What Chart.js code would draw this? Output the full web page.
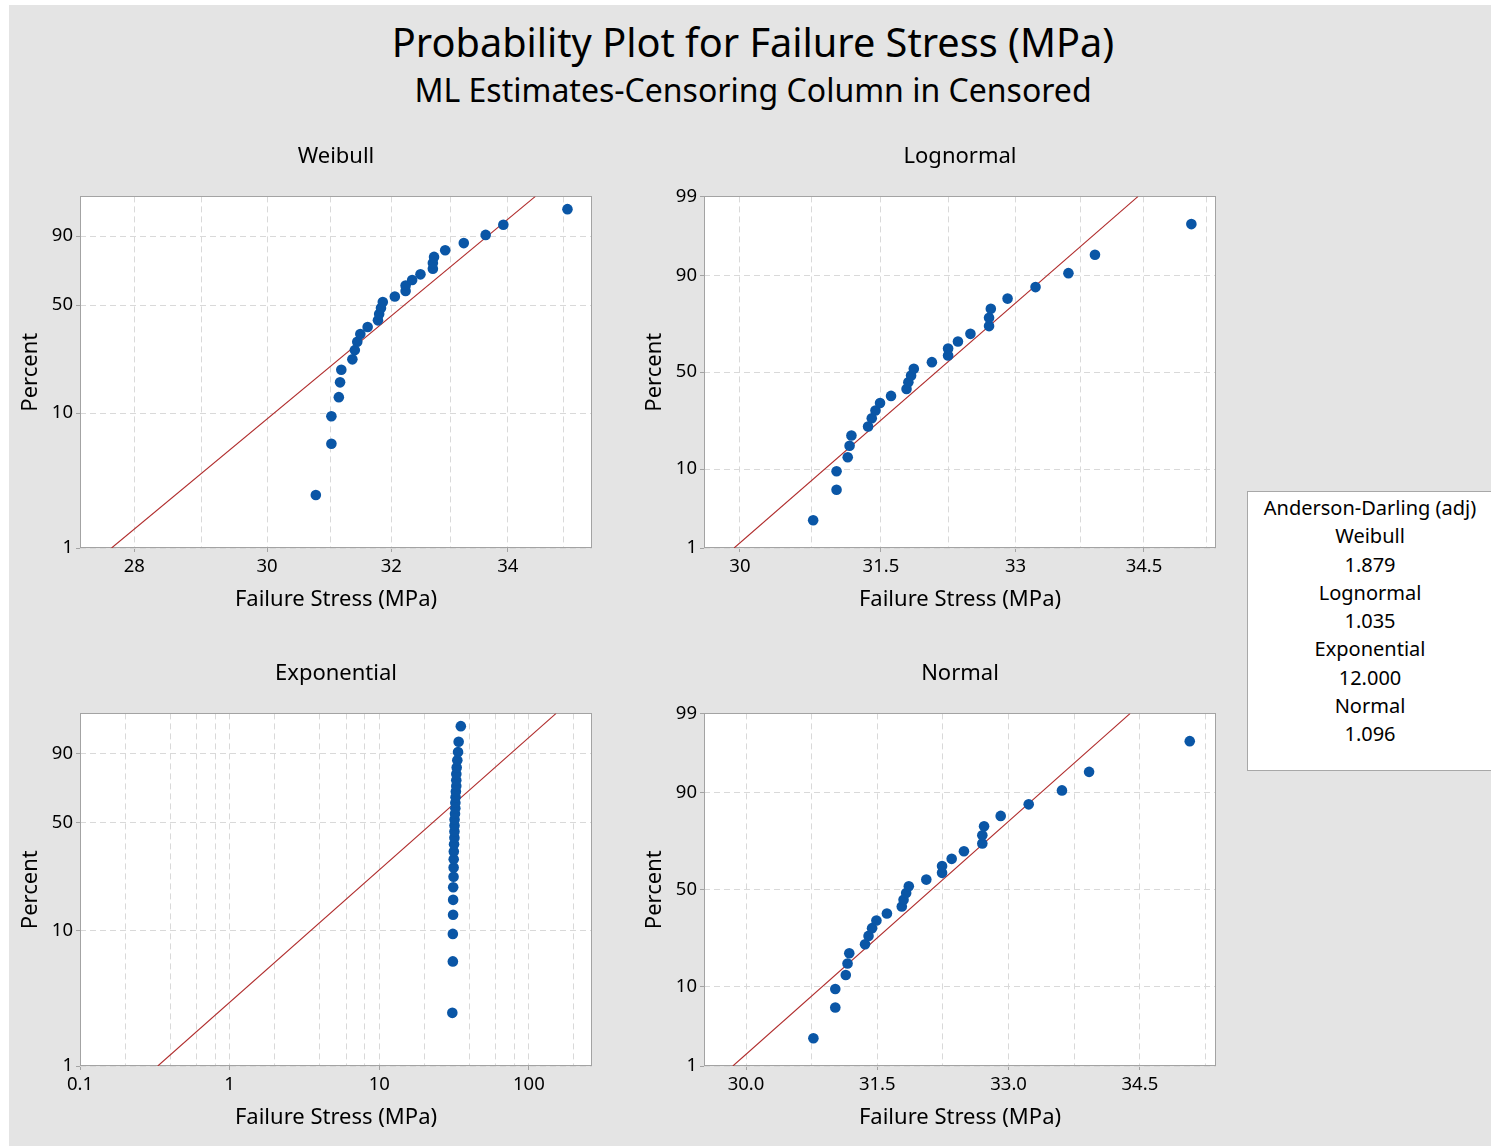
<!DOCTYPE html>
<html>
<head>
<meta charset="utf-8">
<script src="https://cdn.jsdelivr.net/npm/chart.js@4.4.1/dist/chart.umd.min.js"></script>
<style>
  html, body { margin: 0; padding: 0; background: #ffffff; width: 1491px; height: 1146px; overflow: hidden; }
  #panel { position: absolute; left: 9px; top: 5px; width: 1482px; height: 1141px; background: #e4e4e4; }
  .txt { position: absolute; font-family: 'Noto Sans', 'Open Sans', sans-serif; color: #000; text-align: center; white-space: nowrap; }
  canvas { position: absolute; }
  #adBox { position: absolute; left: 1247px; top: 491px; width: 260px; height: 278px; background: #fff; border: 1px solid #a8a8a8; }
</style>
</head>
<body>
<div id="panel"></div>
<div class="txt" id="mainTitle" style="left:253px; width:1000px; top:17px; font-size:39.7px; line-height:50px;"></div>
<div class="txt" id="subTitle" style="left:253px; width:1000px; top:70px; font-size:32px; line-height:40px;"></div>
<canvas id="cWeibull" width="610" height="505" style="left:10px; top:125px;"></canvas>
<canvas id="cLognormal" width="610" height="505" style="left:630px; top:125px;"></canvas>
<canvas id="cExponential" width="610" height="506" style="left:10px; top:640px;"></canvas>
<canvas id="cNormal" width="610" height="506" style="left:630px; top:640px;"></canvas>
<div id="adBox"></div>
<div class="txt" id="adText" style="left:1247px; width:246px; top:494px; font-size:20px; line-height:28.3px;"></div>

<script>
// ---------------- data ----------------
const mainTitle = 'Probability Plot for Failure Stress (MPa)';
const subTitle = 'ML Estimates-Censoring Column in Censored';
const xTitle = 'Failure Stress (MPa)';
const yTitle = 'Percent';

// observed failure stress (MPa), ordered
const failureStress = [30.77, 31.02, 31.02, 31.14, 31.16, 31.18, 31.36, 31.40, 31.44, 31.49,
                       31.61, 31.78, 31.80, 31.83, 31.86, 32.06, 32.24, 32.24, 32.35, 32.49,
                       32.70, 32.70, 32.72, 32.91, 33.23, 33.61, 33.92, 35.07];
// plotted percent for each observation
const plotPercent = [2.5, 6.0, 9.5, 13.0, 16.5, 20.1, 23.6, 27.1, 30.6, 34.2,
                     37.7, 41.2, 44.7, 48.2, 51.8, 55.3, 58.8, 62.3, 65.8, 69.4,
                     72.9, 76.4, 79.9, 83.5, 87.0, 90.5, 94.0, 97.5];

// fitted lines: x at the 1% and 99% ends
const fitPercent = [1, 99];
const weibullFitX = [27.67, 34.49];
const lognormalFitX = [29.94, 34.43];
const exponentialFitX = [0.331, 152];
const normalFitX = [29.85, 34.39];

// axes
const percentGrid = [1, 10, 50, 90, 99];
const percentLabelsLow = [1, 10, 50, 90];        // Weibull / Exponential
const percentLabelsFull = [1, 10, 50, 90, 99];    // Lognormal / Normal
const weibullXGrid = [28, 29, 30, 31, 32, 33, 34, 35];
const weibullXLabels = [28, 30, 32, 34];
const lognormalXGrid = [30, 30.75, 31.5, 32.25, 33, 33.75, 34.5, 35.25];
const lognormalXLabels = [30, 31.5, 33, 34.5];
const normalXGrid = [30, 30.75, 31.5, 32.25, 33, 33.75, 34.5, 35.25];
const normalXLabels = [30.0, 31.5, 33.0, 34.5];
const expXGrid = [0.1, 0.2, 0.4, 0.6, 0.8, 1, 2, 4, 6, 8, 10, 20, 40, 60, 80, 100, 200];
const expXLabels = [0.1, 1, 10, 100];

const adTitle = 'Anderson-Darling (adj)';
const adNames = ['Weibull', 'Lognormal', 'Exponential', 'Normal'];
const adValues = ['1.879', '1.035', '12.000', '1.096'];

// ---------------- text ----------------
document.getElementById('mainTitle').textContent = mainTitle;
document.getElementById('subTitle').textContent = subTitle;
const adEl = document.getElementById('adText');
[adTitle].concat(...adNames.map((n, i) => [n, adValues[i]])).forEach(t => {
  const d = document.createElement('div'); d.textContent = t; adEl.appendChild(d);
});

// ---------------- probability scale ----------------
function probit(p) {
  const a = [-3.969683028665376e+01, 2.209460984245205e+02, -2.759285104469687e+02, 1.383577518672690e+02, -3.066479806614716e+01, 2.506628277459239e+00];
  const b = [-5.447609879822406e+01, 1.615858368580409e+02, -1.556989798598866e+02, 6.680131188771972e+01, -1.328068155288572e+01];
  const c = [-7.784894002430293e-03, -3.223964580411365e-01, -2.400758277161838e+00, -2.549732539343734e+00, 4.374664141464968e+00, 2.938163982698783e+00];
  const d = [7.784695709041462e-03, 3.224671290700398e-01, 2.445134137142996e+00, 3.754408661907416e+00];
  const pl = 0.02425, ph = 1 - pl;
  let q, r;
  if (p < pl) {
    q = Math.sqrt(-2 * Math.log(p));
    return (((((c[0]*q+c[1])*q+c[2])*q+c[3])*q+c[4])*q+c[5]) / ((((d[0]*q+d[1])*q+d[2])*q+d[3])*q+1);
  }
  if (p <= ph) {
    q = p - 0.5; r = q * q;
    return (((((a[0]*r+a[1])*r+a[2])*r+a[3])*r+a[4])*r+a[5])*q / (((((b[0]*r+b[1])*r+b[2])*r+b[3])*r+b[4])*r+1);
  }
  q = Math.sqrt(-2 * Math.log(1 - p));
  return -(((((c[0]*q+c[1])*q+c[2])*q+c[3])*q+c[4])*q+c[5]) / ((((d[0]*q+d[1])*q+d[2])*q+d[3])*q+1);
}

class ProbabilityScale extends Chart.Scale {
  determineDataLimits() { this.min = this.options.min; this.max = this.options.max; }
  buildTicks() { return (this.options.tickValues || []).map(v => ({ value: v })); }
  getLabelForValue(v) { return String(v); }
  _t(v) {
    const p = v / 100;
    return this.options.transform === 'weibull' ? Math.log(-Math.log(1 - p)) : probit(p);
  }
  configure() {
    super.configure();
    this._t0 = this._t(this.min);
    this._t1 = this._t(this.max);
  }
  getPixelForValue(v) { return this.getPixelForDecimal((this._t(v) - this._t0) / (this._t1 - this._t0)); }
  getValueForPixel(px) {
    const t = this._t0 + this.getDecimalForPixel(px) * (this._t1 - this._t0);
    let lo = 1e-4, hi = 100 - 1e-4;
    for (let i = 0; i < 60; i++) { const m = (lo + hi) / 2; if (this._t(m) < t) lo = m; else hi = m; }
    return (lo + hi) / 2;
  }
}
ProbabilityScale.id = 'probability';
ProbabilityScale.defaults = {};
Chart.register(ProbabilityScale);

// ---------------- charts ----------------
const FONT = "'Noto Sans', 'Open Sans', sans-serif";
Chart.defaults.font.family = FONT;
Chart.defaults.color = '#000';

const frame = {
  id: 'frame',
  beforeDraw(chart) {
    const a = chart.chartArea, ctx = chart.ctx;
    ctx.save();
    ctx.fillStyle = '#ffffff';
    ctx.fillRect(a.left, a.top, a.right - a.left, a.bottom - a.top);
    ctx.restore();
  },
  beforeDatasetsDraw(chart) {
    const a = chart.chartArea, ctx = chart.ctx;
    ctx.save();
    ctx.strokeStyle = '#a3a3a3';
    ctx.lineWidth = 1;
    ctx.strokeRect(Math.round(a.left) + 0.5, Math.round(a.top) + 0.5, Math.round(a.right - a.left) - 1, Math.round(a.bottom - a.top) - 1);
    ctx.restore();
  }
};

const near = (v, arr) => arr.some(a => Math.abs(a - v) < 1e-6 * Math.max(1, Math.abs(a)));

function makeChart(id, o) {
  const points = failureStress.map((x, i) => ({ x: x, y: plotPercent[i] }));
  const fit = o.fitX.map((x, i) => ({ x: x, y: fitPercent[i] }));
  new Chart(document.getElementById(id), {
    type: 'scatter',
    data: {
      datasets: [
        { data: points, pointRadius: 5.3, pointBorderWidth: 0, pointBackgroundColor: '#0a56a6', order: 0 },
        { data: fit, showLine: true, pointRadius: 0, borderColor: '#b02c2c', borderWidth: 1.1, order: 1 }
      ]
    },
    options: {
      responsive: false,
      animation: false,
      events: [],
      layout: { padding: { left: 0, right: o.padRight, top: 0, bottom: 0 } },
      plugins: {
        legend: { display: false },
        tooltip: { enabled: false },
        title: {
          display: true, text: o.title, fullSize: false, color: '#000',
          font: { family: FONT, size: 22, weight: 'normal', lineHeight: 1.2 },
          padding: { top: o.titlePadTop, bottom: o.titlePadBottom }
        }
      },
      scales: {
        x: {
          type: o.xType, min: o.xMin, max: o.xMax, bounds: 'data',
          afterBuildTicks: s => { s.ticks = o.xGrid.map(v => ({ value: v })); },
          afterFit: s => { s.height = o.xAxisHeight; },
          ticks: {
            autoSkip: false, maxRotation: 0, minRotation: 0, padding: 4,
            color: '#000', font: { family: FONT, size: 18.5 },
            callback: v => near(v, o.xLabels) ? o.fmtX(v) : ''
          },
          grid: {
            color: '#d9d9d9', lineWidth: 1, drawTicks: true, tickLength: 4,
            tickColor: c => (c.tick && c.tick.label !== '' ? '#a3a3a3' : 'rgba(0,0,0,0)')
          },
          border: { display: false, dash: [6, 4] },
          title: {
            display: true, text: xTitle, color: '#000',
            font: { family: FONT, size: 22, weight: 'normal', lineHeight: 1.2 },
            padding: { top: 0, bottom: o.xTitlePadBottom }
          }
        },
        y: {
          type: 'probability', transform: o.yTransform, min: 1, max: 99,
          tickValues: percentGrid,
          afterFit: s => { s.width = o.yAxisWidth; },
          ticks: {
            autoSkip: false, padding: 3, color: '#000', font: { family: FONT, size: 18.5 },
            callback: v => near(v, o.yLabels) ? String(v) : ''
          },
          grid: {
            color: '#d9d9d9', lineWidth: 1, drawTicks: true, tickLength: 4,
            tickColor: c => (c.tick && c.tick.label !== '' ? '#a3a3a3' : 'rgba(0,0,0,0)')
          },
          border: { display: false, dash: [6, 4] },
          title: {
            display: true, text: yTitle, color: '#000',
            font: { family: FONT, size: 22, weight: 'normal', lineHeight: 1.2 },
            padding: { top: o.yTitlePadTop, bottom: 0 }
          }
        }
      }
    },
    plugins: [frame]
  });
}

const fmtPlain = v => String(Math.round(v * 100) / 100);

makeChart('cWeibull', {
  title: 'Weibull', fitX: weibullFitX, xType: 'logarithmic', xMin: 27.22, xMax: 35.52,
  xGrid: weibullXGrid, xLabels: weibullXLabels, fmtX: fmtPlain,
  yTransform: 'weibull', yLabels: percentLabelsLow,
  padRight: 28, yAxisWidth: 70, xAxisHeight: 82,
  titlePadTop: 19, titlePadBottom: 26, xTitlePadBottom: 17, yTitlePadTop: 8
});
makeChart('cLognormal', {
  title: 'Lognormal', fitX: lognormalFitX, xType: 'logarithmic', xMin: 29.63, xMax: 35.37,
  xGrid: lognormalXGrid, xLabels: lognormalXLabels, fmtX: fmtPlain,
  yTransform: 'normal', yLabels: percentLabelsFull,
  padRight: 24, yAxisWidth: 74, xAxisHeight: 82,
  titlePadTop: 19, titlePadBottom: 26, xTitlePadBottom: 17, yTitlePadTop: 12
});
makeChart('cExponential', {
  title: 'Exponential', fitX: exponentialFitX, xType: 'logarithmic', xMin: 0.1, xMax: 264,
  xGrid: expXGrid, xLabels: expXLabels, fmtX: fmtPlain,
  yTransform: 'weibull', yLabels: percentLabelsLow,
  padRight: 28, yAxisWidth: 70, xAxisHeight: 80,
  titlePadTop: 21, titlePadBottom: 26, xTitlePadBottom: 15, yTitlePadTop: 8
});
makeChart('cNormal', {
  title: 'Normal', fitX: normalFitX, xType: 'linear', xMin: 29.52, xMax: 35.37,
  xGrid: normalXGrid, xLabels: normalXLabels, fmtX: v => v.toFixed(1),
  yTransform: 'normal', yLabels: percentLabelsFull,
  padRight: 24, yAxisWidth: 74, xAxisHeight: 80,
  titlePadTop: 21, titlePadBottom: 26, xTitlePadBottom: 15, yTitlePadTop: 12
});
</script>
</body>
</html>
